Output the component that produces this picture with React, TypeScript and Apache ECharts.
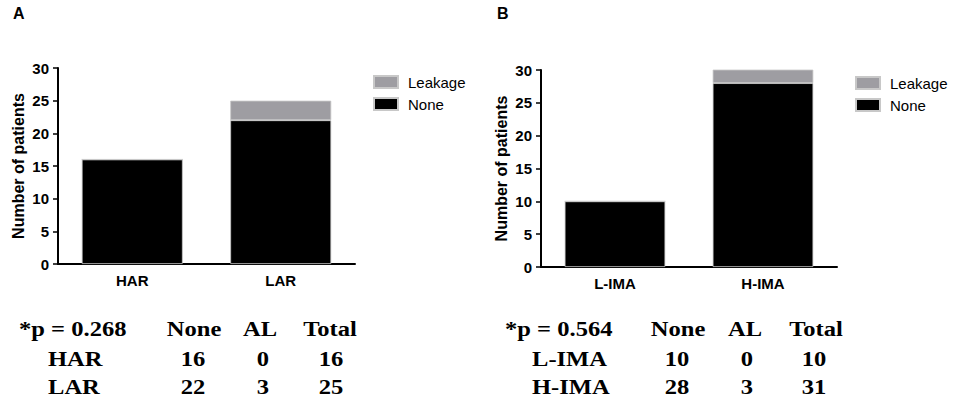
import React, { useEffect, useRef } from "react";
import * as echarts from "echarts";

const panelLabels = ["A", "B"];
const categoriesA = ["HAR", "LAR"];
const noneA = [16, 22];
const leakageA = [0, 3];
const categoriesB = ["L-IMA", "H-IMA"];
const noneB = [10, 28];
const leakageB = [0, 3];
const yMin = 0;
const yMax = 30;
const yInterval = 5;
const legendNames = ["Leakage", "None"];
const yAxisName = "Number of patients";
const pValues = ["*p = 0.268", "*p = 0.564"];
const tableHeaders = ["None", "AL", "Total"];
const tableRowsA: (string | number)[][] = [
  ["HAR", 16, 0, 16],
  ["LAR", 22, 3, 25],
];
const tableRowsB: (string | number)[][] = [
  ["L-IMA", 10, 0, 10],
  ["H-IMA", 28, 3, 31],
];

const SANS = "Liberation Sans, Arial, sans-serif";
const SERIF = "Liberation Serif, Times New Roman, serif";
const GRAY = "#9e9da2";

// layout
const grids = [
  { left: 58, top: 68, width: 297, height: 196 },
  { left: 541, top: 70, width: 296, height: 197 },
];
const legendPos = [
  { left: 373, top: 74.5 },
  { left: 855, top: 75.5 },
];
const panelLabelPos = [
  { x: 13, y: 13 },
  { x: 497, y: 13 },
];
const tableLayout = [
  { pX: 19, rowX: 48, cols: [194, 260, 330], valCols: [193, 263, 331] },
  { pX: 505, rowX: 532, cols: [678, 745, 816], valCols: [677, 747, 814] },
];
const rowYs = [329, 359, 387];

function buildTable(i: number, rows: (string | number)[][]) {
  const L = tableLayout[i];
  const base = {
    fontFamily: SERIF,
    fontWeight: "bold" as const,
    fontSize: 21,
    fill: "#000",
    verticalAlign: "middle" as const,
  };
  const els: any[] = [];
  els.push({
    type: "text",
    x: L.pX,
    y: rowYs[0],
    scaleX: 1.17,
    style: { ...base, text: pValues[i], align: "left" },
  });
  tableHeaders.forEach((h, c) => {
    els.push({
      type: "text",
      x: L.cols[c],
      y: rowYs[0],
      scaleX: 1.17,
      style: { ...base, text: h, align: "center" },
    });
  });
  rows.forEach((r, ri) => {
    els.push({
      type: "text",
      x: L.rowX,
      y: rowYs[ri + 1],
      scaleX: 1.17,
      style: { ...base, text: String(r[0]), align: "left" },
    });
    for (let c = 1; c < r.length; c++) {
      els.push({
        type: "text",
        x: L.valCols[c - 1],
        y: rowYs[ri + 1],
        scaleX: 1.17,
        style: { ...base, text: String(r[c]), align: "center" },
      });
    }
  });
  return els;
}

export default function App() {
  const ref = useRef<HTMLDivElement>(null);
  useEffect(() => {
    if (!ref.current) return;
    const chart = echarts.init(ref.current, null, { renderer: "svg" });
    const cats = [categoriesA, categoriesB];
    const nones = [noneA, noneB];
    const leaks = [leakageA, leakageB];

    const xAxis = cats.map((c, i) => ({
      type: "category",
      gridIndex: i,
      data: c,
      boundaryGap: true,
      axisLine: { lineStyle: { color: "#000", width: 2 } },
      axisTick: { alignWithLabel: true, length: 5, lineStyle: { color: "#000", width: 1.5 } },
      axisLabel: {
        color: "#000",
        fontFamily: SANS,
        fontWeight: "bold",
        fontSize: 15,
        margin: 9,
      },
      splitLine: { show: false },
    }));
    const yAxis = cats.map((_, i) => ({
      type: "value",
      gridIndex: i,
      min: yMin,
      max: yMax,
      interval: yInterval,
      name: yAxisName,
      nameLocation: "middle",
      nameGap: 32,
      nameTextStyle: {
        color: "#000",
        fontFamily: SANS,
        fontWeight: "bold",
        fontSize: 16,
      },
      axisLine: { show: true, lineStyle: { color: "#000", width: 2 } },
      axisTick: { show: true, length: 5, lineStyle: { color: "#000", width: 1.5 } },
      axisLabel: {
        color: "#000",
        fontFamily: SANS,
        fontWeight: "bold",
        fontSize: 15,
        margin: 9,
      },
      splitLine: { show: false },
    }));

    const series: any[] = [];
    cats.forEach((_, i) => {
      series.push({
        name: "None",
        type: "bar",
        stack: "s" + i,
        xAxisIndex: i,
        yAxisIndex: i,
        data: nones[i],
        barCategoryGap: "32%",
        clip: true,
        itemStyle: { color: "#000", borderColor: "#c8c8c8", borderWidth: 0.8 },
      });
      series.push({
        name: "Leakage",
        type: "bar",
        stack: "s" + i,
        xAxisIndex: i,
        yAxisIndex: i,
        data: leaks[i],
        barCategoryGap: "32%",
        clip: true,
        itemStyle: { color: GRAY, borderColor: "#c8c8c8", borderWidth: 0.8 },
      });
    });

    const legend = legendPos.map((p) => ({
      left: p.left,
      top: p.top,
      orient: "vertical",
      padding: 0,
      itemGap: 7,
      itemWidth: 24,
      itemHeight: 12,
      icon: "rect",
      selectedMode: false,
      data: legendNames,
      textStyle: { color: "#000", fontFamily: SANS, fontSize: 15, padding: [0, 0, 0, 5] },
    }));

    const graphic: any[] = [];
    panelLabels.forEach((t, i) => {
      graphic.push({
        type: "text",
        x: panelLabelPos[i].x,
        y: panelLabelPos[i].y,
        style: {
          text: t,
          fontFamily: SANS,
          fontWeight: "bold",
          fontSize: 16,
          fill: "#000",
          verticalAlign: "middle",
          align: "left",
        },
      });
    });
    graphic.push(...buildTable(0, tableRowsA));
    graphic.push(...buildTable(1, tableRowsB));

    chart.setOption({
      animation: false,
      backgroundColor: "#fff",
      grid: grids.map((g) => ({ ...g, containLabel: false })),
      xAxis,
      yAxis,
      legend,
      series,
      graphic,
    });
    return () => chart.dispose();
  }, []);
  return (
    <div
      ref={ref}
      style={{ position: "absolute", left: 0, top: 0, width: 957, height: 407 }}
    />
  );
}
